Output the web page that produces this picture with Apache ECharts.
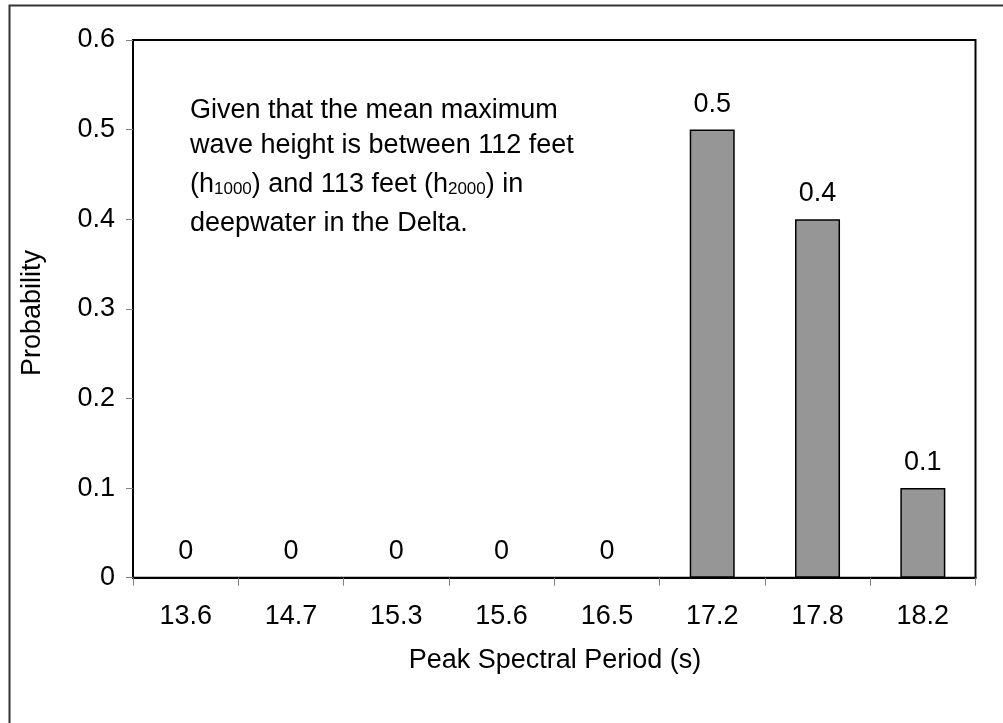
<!DOCTYPE html>
<html>
<head>
<meta charset="utf-8">
<script src="https://cdn.jsdelivr.net/npm/echarts@6/dist/echarts.min.js"></script>
<style>
html,body{margin:0;padding:0;background:#fff;}
#chart{width:1003px;height:723px;}
</style>
</head>
<body>
<div id="chart"></div>
<script>
const categories = ['13.6','14.7','15.3','15.6','16.5','17.2','17.8','18.2'];
const probability = [0, 0, 0, 0, 0, 0.5, 0.4, 0.1];
const yTicks = {min: 0, max: 0.6, interval: 0.1};
const xTitle = 'Peak Spectral Period (s)';
const yTitle = 'Probability';

const FONT = '"Liberation Sans", Arial, sans-serif';
const chart = echarts.init(document.getElementById('chart'), null, {renderer: 'canvas'});
const option = {
  animation: false,
  backgroundColor: '#fff',
  grid: {left: 133, top: 40, right: 27.5, bottom: 145.3, show: true, borderColor: '#000', borderWidth: 2, backgroundColor: 'transparent'},
  xAxis: {
    type: 'category',
    data: categories,
    boundaryGap: true,
    axisLine: {show: true, lineStyle: {color: '#000', width: 2}},
    axisTick: {show: true, inside: false, length: 8, alignWithLabel: false, lineStyle: {color: '#808080', width: 1}},
    axisLabel: {fontFamily: FONT, fontSize: 27, color: '#000', margin: 25},
    splitLine: {show: false}
  },
  yAxis: {
    type: 'value',
    min: yTicks.min, max: yTicks.max, interval: yTicks.interval,
    axisLine: {show: true, lineStyle: {color: '#000', width: 2}},
    axisTick: {show: true, inside: false, length: 7, lineStyle: {color: '#808080', width: 1}},
    axisLabel: {fontFamily: FONT, fontSize: 27, color: '#000', margin: 18},
    splitLine: {show: false}
  },
  series: [{
    type: 'bar',
    data: probability,
    barWidth: 45,
    itemStyle: {color: '#969696', borderColor: '#000', borderWidth: 1.5},
    label: {show: true, position: 'top', distance: 12, fontFamily: FONT, fontSize: 27, color: '#000'}
  }],
  graphic: [
    {type: 'rect', left: 7, top: 3, shape: {width: 1010, height: 740}, style: {fill: 'none', stroke: '#333', lineWidth: 2}, silent: true},
    {type: 'text', x: 555, y: 661, style: {text: xTitle, font: '27px ' + FONT, fill: '#000', textAlign: 'center', textVerticalAlign: 'middle'}},
    {type: 'text', x: 33, y: 313, rotation: Math.PI / 2, style: {text: yTitle, font: '27px ' + FONT, fill: '#000', textAlign: 'center', textVerticalAlign: 'middle'}},
    {type: 'text', x: 190, y: 110.5, style: {text: 'Given that the mean maximum', font: '27px ' + FONT, fill: '#000', textAlign: 'left', textVerticalAlign: 'middle'}},
    {type: 'text', x: 190, y: 145.5, style: {text: 'wave height is between 112 feet', font: '27px ' + FONT, fill: '#000', textAlign: 'left', textVerticalAlign: 'middle'}},
    {type: 'text', x: 190, y: 184.5, style: {
      text: '(h{s|1000}) and 113 feet (h{s|2000}) in',
      fontFamily: FONT, fontSize: 27, fill: '#000', textAlign: 'left', textVerticalAlign: 'middle',
      rich: {s: {fontFamily: FONT, fontSize: 17, fill: '#000', verticalAlign: 'bottom'}}
    }},
    {type: 'text', x: 190, y: 223.5, style: {text: 'deepwater in the Delta.', font: '27px ' + FONT, fill: '#000', textAlign: 'left', textVerticalAlign: 'middle'}}
  ]
};
chart.setOption(option);
</script>
</body>
</html>
